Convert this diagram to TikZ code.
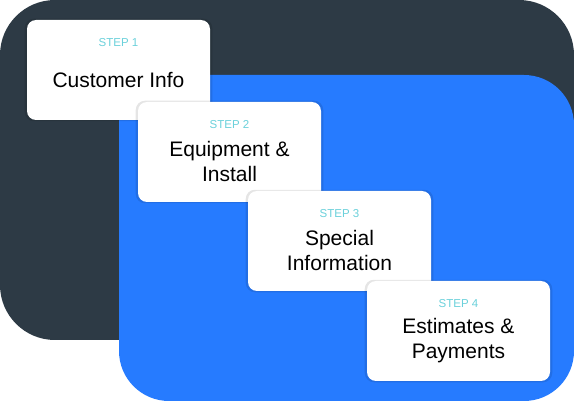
\documentclass[tikz,border=0pt]{standalone}
\usepackage{fontspec}
\setmainfont{Liberation Sans}
\usetikzlibrary{shadows}
\definecolor{dDarkCol}{rgb}{0.176, 0.227, 0.271}
\definecolor{dBlueCol}{rgb}{0.149, 0.482, 1.0}
\definecolor{dStepCol}{rgb}{0.42, 0.82, 0.86}
\tikzset{
  card/.style={fill=white, rounded corners=9pt, minimum width=183pt, minimum height=100pt,
    inner sep=0pt, drop shadow={shadow xshift=0pt, shadow yshift=0pt, shadow scale=1.025,
    opacity=0.10, fill=black}},
  steplabel/.style={font=\fontsize{11.5}{13}\selectfont, text=dStepCol, inner sep=0pt},
  cardtitle/.style={font=\fontsize{21}{25}\selectfont, align=center, inner sep=0pt}
}
\begin{document}
\begin{tikzpicture}[x=1pt, y=-1pt]
      \useasboundingbox (0,0) rectangle (574,401);
%      \draw [help lines, step=20] (0,0) grid (574,401);
      \fill [dDarkCol, rounded corners=55] (0,0) rectangle (574,340);
      \fill [dBlueCol, rounded corners=50] (119,75) rectangle (574,401);
      \foreach \i/\x/\y/\txt in {1/27/20/{Customer Info},
                                 2/138/102/{Equipment \&\\Install},
                                 3/248/191/{Special\\Information},
                                 4/367/281/{Estimates \&\\Payments}} {
        %% card is 183 x 100, placed by its top left corner
        \node [card] (c\i) at (\x+91.5,\y+50) {};
        \node [steplabel] (s\i) at ([yshift=-23pt]c\i.north) {STEP \i};
        \node [cardtitle] (t\i) at ([yshift=-60pt]c\i.north) {\txt};
      }
    \end{tikzpicture}
\end{document}
